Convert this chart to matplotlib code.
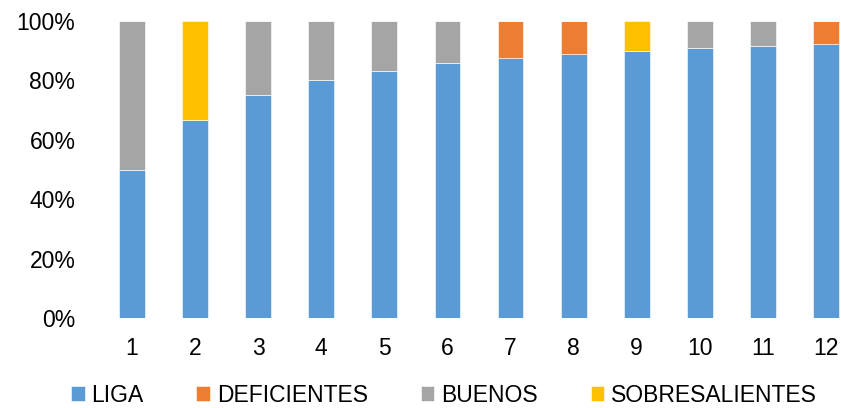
import matplotlib
matplotlib.use("Agg")
import matplotlib.pyplot as plt
import numpy as np

plt.rcParams["font.family"] = ["Liberation Sans", "DejaVu Sans"]

# Data (percent of each group)
groups = ["1", "2", "3", "4", "5", "6", "7", "8", "9", "10", "11", "12"]
liga = [50.0, 66.7, 75.0, 80.0, 83.3, 85.7, 87.5, 88.9, 90.0, 90.9, 91.7, 92.3]
deficientes = [0, 0, 0, 0, 0, 0, 12.5, 11.1, 0, 0, 0, 7.7]
buenos = [50.0, 0, 25.0, 20.0, 16.7, 14.3, 0, 0, 0, 9.1, 8.3, 0]
sobresalientes = [0, 33.3, 0, 0, 0, 0, 0, 0, 10.0, 0, 0, 0]

series = [
    ("LIGA", liga, "#5B9BD5"),
    ("DEFICIENTES", deficientes, "#ED7D31"),
    ("BUENOS", buenos, "#A5A5A5"),
    ("SOBRESALIENTES", sobresalientes, "#FFC000"),
]

W, H = 841, 408
fig = plt.figure(figsize=(W / 100, H / 100), dpi=100)
# axes spans category slots; right edge runs past the canvas like the source crop
left, right, bottom, top = 100.5, 857.5, 318, 21
ax = fig.add_axes([left / W, (H - bottom) / H, (right - left) / W, (bottom - top) / H])

x = np.arange(1, len(groups) + 1)
base = np.zeros(len(groups))
for name, vals, color in series:
    vals = np.array(vals, dtype=float)
    ax.bar(x, vals, width=0.41, bottom=base, color=color, label=name,
           edgecolor="#ffffff", linewidth=0.4)
    base += vals

ax.set_xlim(0.5, len(groups) + 0.5)
ax.set_ylim(0, 100)
ax.set_xticks(x)
ax.set_xticklabels(groups)
ax.set_yticks(np.arange(0, 101, 20))
ax.set_yticklabels([f"{v}%" for v in range(0, 101, 20)])
for s in ax.spines.values():
    s.set_visible(False)
ax.tick_params(axis="both", length=0, labelsize=16.5, colors="#000000")
ax.tick_params(axis="y", pad=18)
ax.tick_params(axis="x", pad=14)

fig.legend(loc="center", bbox_to_anchor=(444 / W, (H - 395) / H), ncol=4,
           frameon=False, fontsize=16.5, handlelength=0.6, handleheight=0.6,
           handletextpad=0.3, columnspacing=2.3, borderaxespad=0)

fig.savefig("out.png", dpi=100, facecolor="white")
